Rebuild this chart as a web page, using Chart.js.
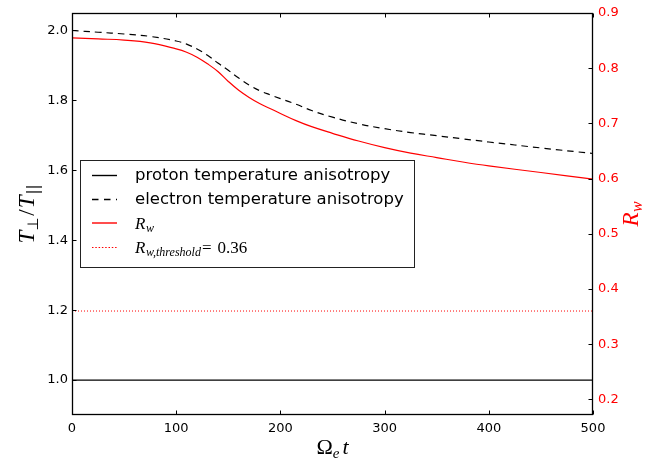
<!DOCTYPE html>
<html>
<head>
<meta charset="utf-8">
<script src="https://cdn.jsdelivr.net/npm/chart.js@4/dist/chart.umd.min.js"></script>
<style>
  html, body { margin: 0; padding: 0; background: #fff; }
  #wrap { width: 647px; height: 465px; position: relative; }
</style>
</head>
<body>
<div id="wrap"><canvas id="c" width="647" height="465"></canvas></div>
<script>
// Time axis samples (Omega_e t)
const timeSteps = [0, 25, 50, 75, 100, 110, 120, 130, 140, 150, 160, 170, 180, 190, 200, 215, 230, 250, 275, 300, 325, 350, 375, 400, 450, 500];
// Proton temperature anisotropy T_perp / T_par
const protonAnisotropy = [1.0, 1.0, 1.0, 1.0, 1.0, 1.0, 1.0, 1.0, 1.0, 1.0, 1.0, 1.0, 1.0, 1.0, 1.0, 1.0, 1.0, 1.0, 1.0, 1.0, 1.0, 1.0, 1.0, 1.0, 1.0, 1.0];
// Electron temperature anisotropy T_perp / T_par
const electronAnisotropy = [2.000, 1.995, 1.990, 1.983, 1.970, 1.961, 1.947, 1.929, 1.907, 1.886, 1.864, 1.844, 1.828, 1.816, 1.805, 1.789, 1.771, 1.752, 1.733, 1.719, 1.708, 1.699, 1.690, 1.681, 1.664, 1.648];
// R_w (right axis)
const rwValues = [0.855, 0.853, 0.851, 0.846, 0.835, 0.829, 0.820, 0.808, 0.794, 0.776, 0.760, 0.747, 0.736, 0.727, 0.718, 0.705, 0.694, 0.682, 0.668, 0.656, 0.646, 0.638, 0.630, 0.623, 0.611, 0.599];
// Threshold level of R_w
const thresholdTimes = [0, 500];
const rwThreshold = [0.36, 0.36];

// Tick labels
const xTicks = [0, 100, 200, 300, 400, 500];
const leftTicks = [1.0, 1.2, 1.4, 1.6, 1.8, 2.0];
const rightTicks = [0.2, 0.3, 0.4, 0.5, 0.6, 0.7, 0.8, 0.9];

const legendLabels = ['proton temperature anisotropy', 'electron temperature anisotropy', 'R_w', 'R_w,threshold = 0.36'];

const RED = '#ff0000';
const TICK_FONT = { family: 'DejaVu Sans', size: 13 };
const SERIF = '"Liberation Serif", "DejaVu Serif", serif';

const pts = (xs, ys) => xs.map((x, i) => ({ x: x, y: ys[i] }));

// Draw a run of text pieces (for sub/superscripts) starting at x, baseline y
function richWidth(ctx, parts) {
  let w = 0;
  for (const p of parts) { ctx.font = p.f; w += ctx.measureText(p.t).width + (p.gap || 0); }
  return w;
}
function drawRich(ctx, parts, x, y, align) {
  let cx = x;
  if (align === 'center') cx = x - richWidth(ctx, parts) / 2;
  ctx.textBaseline = 'alphabetic';
  ctx.textAlign = 'left';
  for (const p of parts) {
    ctx.font = p.f;
    ctx.fillText(p.t, cx, y + (p.dy || 0));
    cx += ctx.measureText(p.t).width + (p.gap || 0);
  }
}

const decorPlugin = {
  id: 'decor',
  afterDatasetsDraw(chart) {
    const ctx = chart.ctx;
    const a = chart.chartArea;
    const L = Math.round(a.left) + 0.5, R = Math.round(a.right) - 0.5;
    const T = Math.round(a.top) + 0.5, B = Math.round(a.bottom) - 0.5;
    ctx.save();
    ctx.strokeStyle = '#000';
    ctx.lineWidth = 1.3;
    ctx.strokeRect(L, T, R - L, B - T);
    ctx.lineWidth = 1;
    const tl = 4;
    ctx.beginPath();
    const xs = chart.scales.x;
    for (const v of xTicks) {
      const px = Math.round(xs.getPixelForValue(v)) + 0.5;
      ctx.moveTo(px, B); ctx.lineTo(px, B - tl);
      ctx.moveTo(px, T); ctx.lineTo(px, T + tl);
    }
    const yl = chart.scales.y;
    for (const v of leftTicks) {
      const py = Math.round(yl.getPixelForValue(v)) + 0.5;
      ctx.moveTo(L, py); ctx.lineTo(L + tl, py);
    }
    const yr = chart.scales.y2;
    for (const v of rightTicks) {
      const py = Math.round(yr.getPixelForValue(v)) + 0.5;
      ctx.moveTo(R, py); ctx.lineTo(R - tl, py);
    }
    ctx.stroke();
    ctx.restore();
  },
  afterDraw(chart) {
    const ctx = chart.ctx;
    const a = chart.chartArea;
    ctx.save();

    // Legend box
    const bx = 80.5, by = 160.5, bw = 334, bh = 107;
    ctx.fillStyle = '#fff';
    ctx.fillRect(bx, by, bw, bh);
    ctx.strokeStyle = '#222';
    ctx.lineWidth = 1;
    ctx.strokeRect(bx, by, bw, bh);

    const rows = [175.5, 199.5, 223, 247.5];
    const styles = [
      { c: '#000', d: [] },
      { c: '#000', d: [6.5, 5.5] },
      { c: RED, d: [] },
      { c: RED, d: [1.5, 1.8] }
    ];
    for (let i = 0; i < 4; i++) {
      ctx.beginPath();
      ctx.strokeStyle = styles[i].c;
      ctx.setLineDash(styles[i].d);
      ctx.lineWidth = i === 3 ? 1 : 1.4;
      ctx.moveTo(92, rows[i]); ctx.lineTo(117, rows[i]);
      ctx.stroke();
    }
    ctx.setLineDash([]);
    ctx.fillStyle = '#000';
    ctx.font = '16.5px "DejaVu Sans"';
    ctx.textBaseline = 'middle';
    ctx.textAlign = 'left';
    ctx.fillText(legendLabels[0], 135, rows[0]);
    ctx.fillText(legendLabels[1], 135, rows[1]);
    const [rwBase, rwSub] = legendLabels[2].split('_');
    drawRich(ctx, [
      { t: rwBase, f: 'italic 17px ' + SERIF, gap: 0.5 },
      { t: rwSub, f: 'italic 12px ' + SERIF, dy: 3 }
    ], 135, rows[2] + 5.5);
    const thrMain = legendLabels[3].split(' = ');
    const thrParts = thrMain[0].split('_');
    drawRich(ctx, [
      { t: thrParts[0], f: 'italic 17px ' + SERIF, gap: 0.5 },
      { t: thrParts[1], f: 'italic 12px ' + SERIF, dy: 3, gap: 1 },
      { t: '=', f: '17px ' + SERIF, gap: 6 },
      { t: thrMain[1], f: '17px ' + SERIF }
    ], 135, rows[3] + 5.5);

    // Bottom axis title: Omega_e t
    ctx.fillStyle = '#000';
    const cx = (a.left + a.right) / 2;
    drawRich(ctx, [
      { t: 'Ω', f: '22px ' + SERIF },
      { t: 'e', f: 'italic 15px ' + SERIF, dy: 4, gap: 3 },
      { t: 't', f: 'italic 22px ' + SERIF }
    ], cx, 454, 'center');

    // Left axis title: T_perp / T_par
    const cy = (a.top + a.bottom) / 2;
    ctx.save();
    ctx.translate(34, cy);
    ctx.rotate(-Math.PI / 2);
    drawRich(ctx, [
      { t: 'T', f: 'italic 23px ' + SERIF, gap: 0 },
      { t: '⊥', f: '15px "DejaVu Sans"', dy: 4, gap: 2 },
      { t: '/', f: '23px ' + SERIF, gap: 1 },
      { t: 'T', f: 'italic 23px ' + SERIF, gap: 1 },
      { t: '||', f: '15px "DejaVu Sans"', dy: 4 }
    ], 0, 0, 'center');
    ctx.restore();

    // Right axis title: R_w
    ctx.save();
    ctx.fillStyle = RED;
    ctx.translate(638, cy);
    ctx.rotate(-Math.PI / 2);
    drawRich(ctx, [
      { t: 'R', f: 'italic 23px ' + SERIF, gap: 0.5 },
      { t: 'w', f: 'italic 16px ' + SERIF, dy: 4 }
    ], 0, 0, 'center');
    ctx.restore();

    ctx.restore();
  }
};

new Chart(document.getElementById('c'), {
  type: 'line',
  data: {
    datasets: [
      {
        label: 'proton temperature anisotropy',
        data: pts(timeSteps, protonAnisotropy),
        borderColor: '#000', borderWidth: 1.2, pointRadius: 0, yAxisID: 'y'
      },
      {
        label: 'electron temperature anisotropy',
        data: pts(timeSteps, electronAnisotropy),
        borderColor: '#000', borderWidth: 1.2, borderDash: [6.5, 5], pointRadius: 0,
        tension: 0.4, yAxisID: 'y'
      },
      {
        label: 'R_w',
        data: pts(timeSteps, rwValues),
        borderColor: RED, borderWidth: 1.2, pointRadius: 0,
        tension: 0.4, yAxisID: 'y2'
      },
      {
        label: 'R_w,threshold',
        data: pts(thresholdTimes, rwThreshold),
        borderColor: RED, borderWidth: 1, borderDash: [1, 2], pointRadius: 0, yAxisID: 'y2'
      }
    ]
  },
  options: {
    responsive: false,
    animation: false,
    layout: { padding: { top: 13, left: 0, right: 0, bottom: 0 } },
    plugins: { legend: { display: false }, tooltip: { enabled: false } },
    scales: {
      x: {
        type: 'linear', min: 0, max: 500,
        afterBuildTicks: s => { s.ticks = xTicks.map(v => ({ value: v })); },
        afterFit: s => { s.height = 50; },
        grid: { display: false, drawTicks: false },
        border: { display: false },
        ticks: { color: '#000', font: TICK_FONT, padding: 6, maxRotation: 0, callback: v => String(v) }
      },
      y: {
        type: 'linear', position: 'left', min: 0.9, max: 2.05,
        afterBuildTicks: s => { s.ticks = leftTicks.map(v => ({ value: v })); },
        afterFit: s => { s.width = 72; },
        grid: { display: false, drawTicks: false },
        border: { display: false },
        ticks: { color: '#000', font: TICK_FONT, padding: 4, callback: v => v.toFixed(1) }
      },
      y2: {
        type: 'linear', position: 'right', min: 0.1716, max: 0.9,
        afterBuildTicks: s => { s.ticks = rightTicks.map(v => ({ value: v })); },
        afterFit: s => { s.width = 54; },
        grid: { display: false, drawTicks: false },
        border: { display: false },
        ticks: { color: RED, font: TICK_FONT, padding: 5, callback: v => v.toFixed(1) }
      }
    }
  },
  plugins: [decorPlugin]
});
</script>
</body>
</html>
